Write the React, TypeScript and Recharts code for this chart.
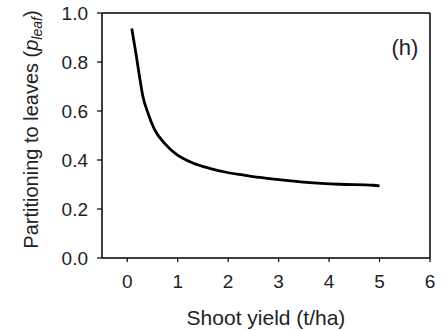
import React from "react";
import {
  LineChart,
  Line,
  XAxis,
  YAxis,
  ReferenceLine,
  Label,
  Customized,
} from "recharts";

// Shoot yield (t/ha) and the matching fraction partitioned to leaves
const shootYield = [0.09, 0.18, 0.24, 0.31, 0.41, 0.54, 0.74, 0.97, 1.3, 1.63, 1.96, 2.29, 2.62, 2.96, 3.55, 4.21, 4.87, 5.0];
const pLeaf = [0.937, 0.825, 0.745, 0.66, 0.592, 0.525, 0.468, 0.424, 0.388, 0.366, 0.35, 0.339, 0.329, 0.321, 0.309, 0.301, 0.297, 0.294];

const xTicks = [0, 1, 2, 3, 4, 5, 6];
const yTicks = [0, 0.2, 0.4, 0.6, 0.8, 1.0];
const panelTag = "(h)";

const data = shootYield.map((x, i) => ({ x, y: pLeaf[i] }));

const FONT = "'Liberation Sans', Arial, sans-serif";
const INK = "#222";

const YTitle = (props: any) => {
  const vb = props.viewBox || {};
  const cx = vb.x + 37.5;
  const cy = vb.y + vb.height / 2 - 6;
  return (
    <text
      x={0}
      y={0}
      transform={`translate(${cx}, ${cy}) rotate(-90)`}
      textAnchor="middle"
      fontFamily={FONT}
      fontSize={20}
      fill={INK}
    >
      Partitioning to leaves (
      <tspan fontStyle="italic">p</tspan>
      <tspan fontStyle="italic" fontSize={14} dy={4}>
        leaf
      </tspan>
      <tspan dy={-4}>)</tspan>
    </text>
  );
};

// Panel letter in the upper-right corner of the plot frame
const Tag = () => (
  <text x={405} y={55} textAnchor="middle" fontFamily={FONT} fontSize={22} fill={INK}>
    {panelTag}
  </text>
);

export default function App() {
  return (
    <div style={{ position: "absolute", left: 0, top: 0, width: 443, height: 330, background: "#fff" }}>
      <LineChart width={443} height={330} data={data} margin={{ top: 13, right: 13, bottom: 0, left: 0 }}>
        <XAxis
          dataKey="x"
          type="number"
          domain={[-0.5, 6]}
          ticks={xTicks}
          allowDataOverflow
          height={72}
          tickSize={4}
          tickMargin={13}
          axisLine={{ stroke: "#000", strokeWidth: 1.5 }}
          tickLine={{ stroke: "#000", strokeWidth: 1.2 }}
          tick={{ fontFamily: FONT, fontSize: 19, fill: INK }}
          interval={0}
        >
          <Label
            value="Shoot yield (t/ha)"
            position="insideBottom"
            offset={5}
            style={{ fontFamily: FONT, fontSize: 21, fill: INK }}
          />
        </XAxis>
        <YAxis
          type="number"
          domain={[0, 1]}
          ticks={yTicks}
          width={102}
          tickSize={5}
          tickMargin={9}
          axisLine={{ stroke: "#000", strokeWidth: 1.5 }}
          tickLine={{ stroke: "#000", strokeWidth: 1.2 }}
          tick={{ fontFamily: FONT, fontSize: 19, fill: INK }}
          tickFormatter={(v: number) => v.toFixed(1)}
          interval={0}
        >
          <Label content={<YTitle />} />
        </YAxis>
        <ReferenceLine y={1} stroke="#000" strokeWidth={1.5} />
        <ReferenceLine x={6} stroke="#000" strokeWidth={1.5} />
        <Line
          dataKey="y"
          type="monotone"
          stroke="#000"
          strokeWidth={2.8}
          dot={false}
          isAnimationActive={false}
        />
        <Customized component={Tag} />
      </LineChart>
    </div>
  );
}
